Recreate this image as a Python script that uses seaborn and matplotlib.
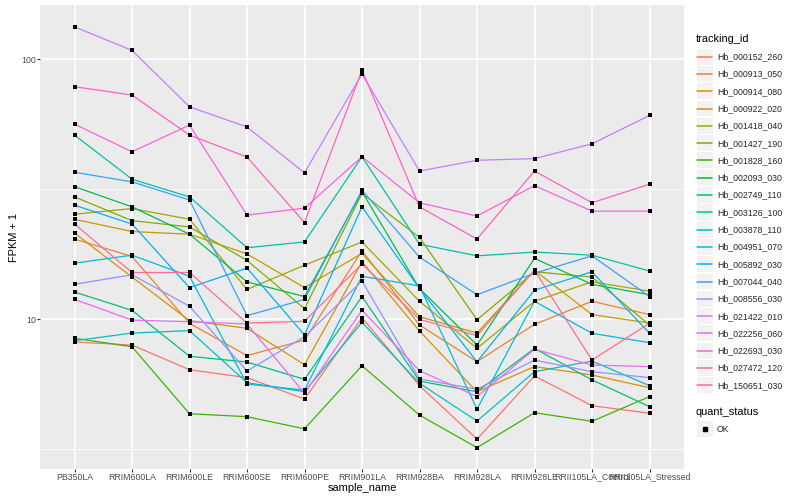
import numpy as np
import pandas as pd
import matplotlib
matplotlib.use("Agg")
import matplotlib.pyplot as plt
import seaborn as sns
from matplotlib.lines import Line2D
from matplotlib.patches import Rectangle
from matplotlib.legend_handler import HandlerBase
from matplotlib.ticker import FixedLocator, FixedFormatter, NullFormatter

# ---------------- data (FPKM + 1) ----------------
samples = ["PB350LA", "RRIM600LA", "RRIM600LE", "RRIM600SE", "RRIM600PE",
           "RRIM901LA", "RRIM928BA", "RRIM928LA", "RRIM928LE",
           "RRII105LA_Control", "RRII105LA_Stressed"]

tracking_ids = ["Hb_000152_260", "Hb_000913_050", "Hb_000914_080", "Hb_000922_020",
                "Hb_001418_040", "Hb_001427_190", "Hb_001828_160", "Hb_002093_030",
                "Hb_002749_110", "Hb_003126_100", "Hb_003878_110", "Hb_004951_070",
                "Hb_005892_030", "Hb_007044_040", "Hb_008556_030", "Hb_021422_010",
                "Hb_022256_060", "Hb_022693_030", "Hb_027472_120", "Hb_150651_030"]

hb_000152_260 = [8.16, 7.94, 6.38, 5.95, 4.92, 10.1, 5.54, 3.45, 6.04, 4.64, 4.34]
hb_000913_050 = [20.3, 17.4, 9.63, 7.23, 8.30, 18.3, 9.48, 6.85, 9.54, 11.7, 10.4]
hb_000914_080 = [21.4, 14.5, 9.85, 9.21, 6.67, 16.6, 8.99, 5.25, 6.56, 6.09, 5.44]
hb_000922_020 = [24.2, 21.7, 21.2, 17.8, 13.2, 17.9, 10.2, 8.83, 15.4, 10.4, 9.65]
hb_001418_040 = [25.3, 26.6, 24.2, 13.0, 16.1, 19.8, 11.7, 7.71, 11.7, 13.9, 12.8]
hb_001427_190 = [29.5, 23.9, 22.6, 16.8, 10.96, 30.4, 20.6, 9.94, 15.2, 14.5, 9.48]
hb_001828_160 = [8.43, 7.82, 4.32, 4.21, 3.78, 6.61, 4.27, 3.20, 4.36, 4.04, 5.03]
hb_002093_030 = [32.3, 27.0, 21.2, 13.9, 12.2, 30.9, 13.1, 7.94, 17.1, 13.6, 12.4]
hb_002749_110 = [12.7, 10.8, 7.19, 6.83, 5.86, 12.2, 5.77, 5.25, 7.71, 5.83, 4.60]
hb_003126_100 = [51.0, 34.5, 29.5, 18.8, 19.8, 42.1, 19.4, 17.5, 18.1, 17.6, 15.3]
hb_003878_110 = [8.25, 8.83, 9.02, 5.69, 5.25, 9.71, 5.66, 4.05, 6.27, 6.89, 5.54]
hb_004951_070 = [16.4, 17.6, 14.6, 5.62, 5.33, 14.6, 13.4, 4.50, 11.7, 8.81, 8.11]
hb_005892_030 = [27.4, 23.2, 13.2, 15.7, 8.68, 27.0, 13.1, 6.85, 12.9, 15.2, 8.81]
hb_007044_040 = [36.7, 33.7, 28.7, 10.3, 11.9, 31.3, 17.3, 12.4, 15.0, 17.5, 12.2]
hb_008556_030 = [13.6, 14.8, 11.2, 6.31, 8.55, 14.0, 5.88, 5.37, 6.95, 6.27, 5.95]
hb_021422_010 = [133, 108, 65.5, 54.8, 36.5, 87.6, 37.1, 40.8, 41.4, 47.2, 60.7]
hb_022256_060 = [11.9, 9.91, 9.76, 9.57, 5.18, 10.8, 6.33, 5.03, 7.65, 6.65, 6.56]
hb_022693_030 = [56.2, 44.0, 55.7, 25.1, 26.7, 42.1, 28.0, 24.9, 32.6, 26.0, 26.0]
hb_027472_120 = [78.3, 72.7, 51.0, 42.0, 23.5, 90.7, 27.0, 20.3, 37.1, 28.0, 33.0]
hb_150651_030 = [23.2, 15.1, 15.1, 9.65, 9.80, 16.3, 9.97, 8.63, 15.4, 6.95, 9.63]

series_values = [hb_000152_260, hb_000913_050, hb_000914_080, hb_000922_020,
                 hb_001418_040, hb_001427_190, hb_001828_160, hb_002093_030,
                 hb_002749_110, hb_003126_100, hb_003878_110, hb_004951_070,
                 hb_005892_030, hb_007044_040, hb_008556_030, hb_021422_010,
                 hb_022256_060, hb_022693_030, hb_027472_120, hb_150651_030]

quant_status = ["OK"]

y_breaks = [10, 100]
y_break_labels = ["10", "100"]

# ggplot2 default hue palette for 20 levels
colors = ["#F8766D", "#EA8331", "#D89000", "#C09B00", "#A3A500", "#7CAE00",
          "#39B600", "#00BB4E", "#00BF7D", "#00C1A3", "#00BFC4", "#00BAE0",
          "#00B0F6", "#35A2FF", "#9590FF", "#C77CFF", "#E76BF3", "#FA62DB",
          "#FF62BC", "#FF6C91"]

df = pd.DataFrame({
    "tracking_id": np.repeat(tracking_ids, len(samples)),
    "sample_name": samples * len(tracking_ids),
    "fpkm": np.concatenate([np.asarray(v, dtype=float) for v in series_values]),
    "quant_status": quant_status[0],
})

# ---------------- style ----------------
sns.set_theme(style="darkgrid", rc={"axes.facecolor": "#EBEBEB",
                                    "grid.color": "white",
                                    "figure.facecolor": "white"})
plt.rcParams["font.family"] = ["Liberation Sans", "DejaVu Sans"]

fig = plt.figure(figsize=(8, 5), dpi=100)
ax = fig.add_axes([40 / 800, 1 - 469 / 500, (684 - 40) / 800, (469 - 5) / 500])

palette = dict(zip(tracking_ids, colors))
sns.lineplot(data=df, x="sample_name", y="fpkm", hue="tracking_id",
             hue_order=tracking_ids, palette=palette, estimator=None,
             sort=False, legend=False, ax=ax, linewidth=0.9)
sns.scatterplot(data=df, x="sample_name", y="fpkm", color="black", marker="s",
                s=9, linewidth=0, legend=False, ax=ax, zorder=3)

ax.set_yscale("log")
ax.set_ylim(10 ** 0.423, 10 ** 2.208)
ax.set_xlim(-0.6, len(samples) - 1 + 0.6)
ax.yaxis.set_major_locator(FixedLocator(y_breaks))
ax.yaxis.set_major_formatter(FixedFormatter(y_break_labels))
ax.yaxis.set_minor_locator(FixedLocator([10 ** 0.5, 10 ** 1.5]))
ax.yaxis.set_minor_formatter(NullFormatter())

ax.grid(which="major", color="white", linewidth=1.1)
ax.grid(which="minor", axis="y", color="white", linewidth=0.55)
ax.set_axisbelow(True)
for s in ax.spines.values():
    s.set_visible(False)

ax.tick_params(which="major", bottom=True, left=True, length=2.0, width=0.8,
               color="#333333", labelcolor="#4D4D4D", labelsize=6.34, pad=0.6)
ax.tick_params(which="minor", length=0)

ax.set_xlabel("sample_name", fontsize=7.92, color="black", labelpad=1.0)
ax.set_ylabel("FPKM + 1", fontsize=7.92, color="black", labelpad=2.0)


# ---------------- legends (ggplot-like keys) ----------------
class KeyHandler(HandlerBase):
    def __init__(self, kind="line", **kw):
        super().__init__(**kw)
        self.kind = kind

    def create_artists(self, legend, orig_handle, xdescent, ydescent,
                       width, height, fontsize, trans):
        x0, y0 = -xdescent, -ydescent
        bg = Rectangle((x0 + 0.5, y0 + 0.5), width - 1.0, height - 1.0,
                       facecolor="#F2F2F2", edgecolor="none", transform=trans)
        if self.kind == "line":
            art = Line2D([x0 + 0.06 * width, x0 + 0.94 * width],
                         [y0 + height / 2] * 2, color=orig_handle.get_color(),
                         lw=1.1, transform=trans)
        else:
            art = Line2D([x0 + width / 2], [y0 + height / 2], marker="s",
                         color="black", ms=2.6, ls="none", transform=trans)
        return [bg, art]


legend_kw = dict(loc="upper left", frameon=False, fontsize=6.34,
                 handlelength=1.96, handleheight=2.645, labelspacing=0,
                 handletextpad=0.42, borderpad=0, borderaxespad=0)

line_handles = [Line2D([], [], color=c, lw=0.9) for c in colors]
fig.text(696 / 800, 1 - 39 / 500, "tracking_id", fontsize=7.92,
         ha="left", va="center", color="black")
fig.legend(line_handles, tracking_ids, bbox_to_anchor=(696 / 800, 1 - 48 / 500),
           handler_map={Line2D: KeyHandler("line")}, **legend_kw)

pt_handle = [Line2D([], [], marker="s", color="black", ls="none")]
fig.text(696 / 800, 1 - 412 / 500, "quant_status", fontsize=7.92,
         ha="left", va="center", color="black")
fig.legend(pt_handle, quant_status, bbox_to_anchor=(696 / 800, 1 - 420.5 / 500),
           handler_map={Line2D: KeyHandler("point")}, **legend_kw)

fig.savefig("out.png", dpi=100)
